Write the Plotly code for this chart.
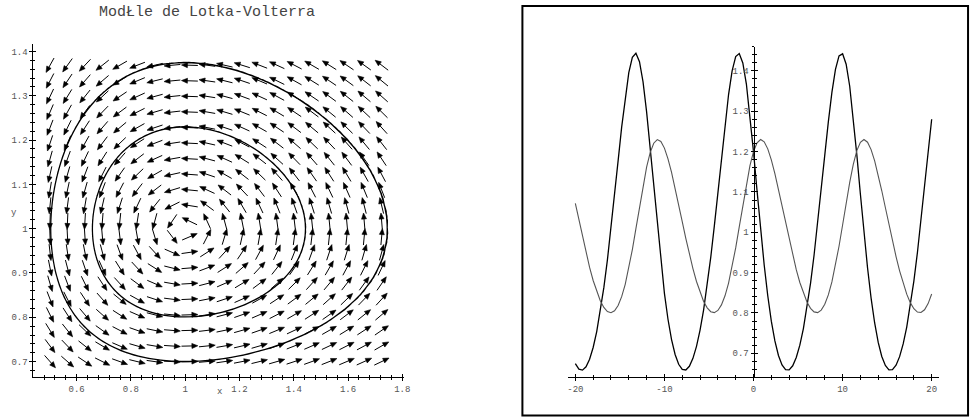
import numpy as np
import plotly.graph_objects as go

# ---------------- model & data ----------------
# Lotka-Volterra:  x' = a*x - b*x*y ,  y' = -c*y + d*x*y   (equilibrium at (1,1))
model_a, model_b, model_c, model_d = 1.0, 1.0, 0.3, 0.3
t_start, t_end = -20.0, 20.0
phase_initial = [(1.2, 1.2), (1.0, 0.7)]      # initial conditions at t = 0
series_initial = (1.2, 1.2)
phase_step = 0.22
series_step = 0.4

arrow_x = np.linspace(0.502, 1.724, 20)       # direction-field grid
arrow_y = np.linspace(0.700, 1.369, 20)

left_xticks = [0.6, 0.8, 1.0, 1.2, 1.4, 1.6, 1.8]
left_xtick_labels = ["0.6", "0.8", "1", "1.2", "1.4", "1.6", "1.8"]
y_ticks = [0.7, 0.8, 0.9, 1.0, 1.1, 1.2, 1.3, 1.4]
y_tick_labels = ["0.7", "0.8", "0.9", "1", "1.1", "1.2", "1.3", "1.4"]
right_xticks = [-20, -10, 0, 10, 20]
right_xtick_labels = ["-20", "-10", "0", "10", "20"]

title_text = "ModŁle de Lotka-Volterra"

# ---------------- layout geometry (page pixels) ----------------
W, H = 980, 420
L_px_x = (32.7, 406.0); L_range_x = (0.4408, 1.8052)
L_px_y = (44.0, 376.7); L_range_y = (0.6659, 1.4169)
R_px_x = (571.7, 945.7); R_range_x = (-20.82, 20.82)
R_px_y = (46.7, 376.7); R_range_y = (0.642, 1.460)
R_yaxis_px = 758.7

def pdx(px): return px / W
def pdy(py): return 1 - py / H

kx = (L_px_x[1] - L_px_x[0]) / (L_range_x[1] - L_range_x[0])
ky = (L_px_y[1] - L_px_y[0]) / (L_range_y[1] - L_range_y[0])

# ---------------- integration ----------------
def rhs(s):
    x, y = s
    return np.array([model_a * x - model_b * x * y, -model_c * y + model_d * x * y])

def integrate(s0, h, tmax, sub=40):
    n = int(round(abs(tmax / h)))
    dt = h / sub
    s = np.array(s0, float)
    out = [s.copy()]
    for _ in range(n):
        for _ in range(sub):
            k1 = rhs(s); k2 = rhs(s + dt / 2 * k1)
            k3 = rhs(s + dt / 2 * k2); k4 = rhs(s + dt * k3)
            s = s + dt / 6 * (k1 + 2 * k2 + 2 * k3 + k4)
        out.append(s.copy())
    return np.array(out)

def solve(s0, h):
    back = integrate(s0, -h, t_start)[::-1]
    fwd = integrate(s0, h, t_end)
    sol = np.vstack([back, fwd[1:]])
    t = np.linspace(t_start, t_end, len(sol))
    return t, sol

fig = go.Figure()

# ---------------- direction field ----------------
L_len, head_len, head_w = 16.5, 6.0, 5.0
sx, sy, hx, hy = [], [], [], []
for yv in arrow_y:
    for xv in arrow_x:
        f = rhs((xv, yv))
        vx, vy = f[0] * kx, f[1] * ky
        n = np.hypot(vx, vy)
        if n == 0:
            continue
        ux, uy = vx / n, vy / n
        tail = (-ux * L_len / 2, -uy * L_len / 2)
        tip = (ux * L_len / 2, uy * L_len / 2)
        base = (tip[0] - ux * head_len, tip[1] - uy * head_len)
        sx += [xv + tail[0] / kx, xv + (base[0] + ux) / kx, None]
        sy += [yv + tail[1] / ky, yv + (base[1] + uy) / ky, None]
        nx, ny = -uy, ux
        pts = [tip, (base[0] + nx * head_w / 2, base[1] + ny * head_w / 2),
               (base[0] - nx * head_w / 2, base[1] - ny * head_w / 2), tip]
        hx += [xv + p[0] / kx for p in pts] + [None]
        hy += [yv + p[1] / ky for p in pts] + [None]

fig.add_trace(go.Scatter(x=sx, y=sy, mode="lines", line=dict(color="black", width=1.0),
                         hoverinfo="skip", showlegend=False, xaxis="x", yaxis="y"))
fig.add_trace(go.Scatter(x=hx, y=hy, mode="lines", fill="toself", fillcolor="black",
                         line=dict(color="black", width=0.6), hoverinfo="skip",
                         showlegend=False, xaxis="x", yaxis="y"))

# ---------------- trajectories ----------------
for s0 in phase_initial:
    t, sol = solve(s0, phase_step)
    fig.add_trace(go.Scatter(x=sol[:, 0], y=sol[:, 1], mode="lines",
                             line=dict(color="black", width=1.2), showlegend=False,
                             hoverinfo="skip", xaxis="x", yaxis="y"))

# ---------------- time series ----------------
t, sol = solve(series_initial, series_step)
fig.add_trace(go.Scatter(x=t, y=sol[:, 0], mode="lines", line=dict(color="black", width=1.3),
                         showlegend=False, xaxis="x2", yaxis="y2"))
fig.add_trace(go.Scatter(x=t, y=sol[:, 1], mode="lines", line=dict(color="#555555", width=1.1),
                         showlegend=False, xaxis="x2", yaxis="y2"))

# dummy traces so overlay axes are drawn
fig.add_trace(go.Scatter(x=[None], y=[None], xaxis="x3", yaxis="y3", showlegend=False))
fig.add_trace(go.Scatter(x=[None], y=[None], xaxis="x4", yaxis="y4", showlegend=False))

tickfont = dict(family="Liberation Mono, DejaVu Sans Mono, monospace", size=9, color="#555555")

def ax(domain, rng, tickvals, ticktext, minor_dtick, minor_tick0, ticks="outside",
       labels=True, line=True, **kw):
    d = dict(domain=domain, range=list(rng), tickmode="array", tickvals=tickvals,
             ticktext=ticktext, ticks=ticks, ticklen=3, tickwidth=1, tickcolor="black",
             showticklabels=labels, showline=line, linecolor="black", linewidth=1,
             showgrid=False, zeroline=False, tickfont=tickfont, fixedrange=True,
             minor=dict(tickmode="linear", tick0=minor_tick0, dtick=minor_dtick,
                        ticks=ticks, ticklen=2, tickwidth=1, tickcolor="black"))
    d.update(kw)
    return d

Ldx = [pdx(L_px_x[0]), pdx(L_px_x[1])]
Ldy = [pdy(L_px_y[1]), pdy(L_px_y[0])]
Rdx = [pdx(R_px_x[0]), pdx(R_px_x[1])]
Rdy = [pdy(R_px_y[1]), pdy(R_px_y[0])]

fig.update_layout(
    width=W, height=H, autosize=False, margin=dict(l=0, r=0, t=0, b=0),
    paper_bgcolor="white", plot_bgcolor="rgba(0,0,0,0)",
    xaxis=ax(Ldx, L_range_x, left_xticks, left_xtick_labels, 0.04, 0.48, anchor="y"),
    yaxis=ax(Ldy, L_range_y, y_ticks, y_tick_labels, 0.02, 0.68, anchor="x"),
    xaxis3=ax(Ldx, L_range_x, left_xticks, left_xtick_labels, 0.04, 0.48, ticks="inside",
              labels=False, line=False, anchor="y", overlaying="x"),
    yaxis3=ax(Ldy, L_range_y, y_ticks, y_tick_labels, 0.02, 0.68, ticks="inside",
              labels=False, line=False, anchor="x", overlaying="y"),
    xaxis2=ax(Rdx, R_range_x, right_xticks, right_xtick_labels, 2, 0, anchor="y2"),
    yaxis2=ax(Rdy, R_range_y, y_ticks, y_tick_labels, 0.02, 0.66, anchor="free",
              position=pdx(R_yaxis_px)),
    xaxis4=ax(Rdx, R_range_x, right_xticks, right_xtick_labels, 2, 0, ticks="inside",
              labels=False, line=False, anchor="y2", overlaying="x2"),
    yaxis4=ax(Rdy, R_range_y, y_ticks, y_tick_labels, 0.02, 0.66, ticks="inside",
              labels=False, line=False, anchor="free", overlaying="y2",
              position=pdx(R_yaxis_px)),
    shapes=[dict(type="rect", xref="paper", yref="paper", x0=pdx(525.7), x1=pdx(975.0),
                 y0=pdy(415.5), y1=pdy(6.0), line=dict(color="black", width=2))],
    annotations=[
        dict(text=title_text, xref="paper", yref="paper", x=pdx(207.5), y=pdy(12.3),
             showarrow=False, xanchor="center", yanchor="middle",
             font=dict(family="Liberation Mono, DejaVu Sans Mono, monospace", size=15,
                       color="#444444")),
        dict(text="x", xref="paper", yref="paper", x=pdx(220), y=pdy(392), showarrow=False,
             xanchor="center", yanchor="middle", font=tickfont),
        dict(text="y", xref="paper", yref="paper", x=pdx(13), y=pdy(212.7), showarrow=False,
             xanchor="center", yanchor="middle", font=tickfont),
    ],
)

# remove the default 8px page margin so the figure fills the 980x420 window
fig.write_html("out.html", config={"displayModeBar": False},
               post_script="document.body.style.margin='0';")
